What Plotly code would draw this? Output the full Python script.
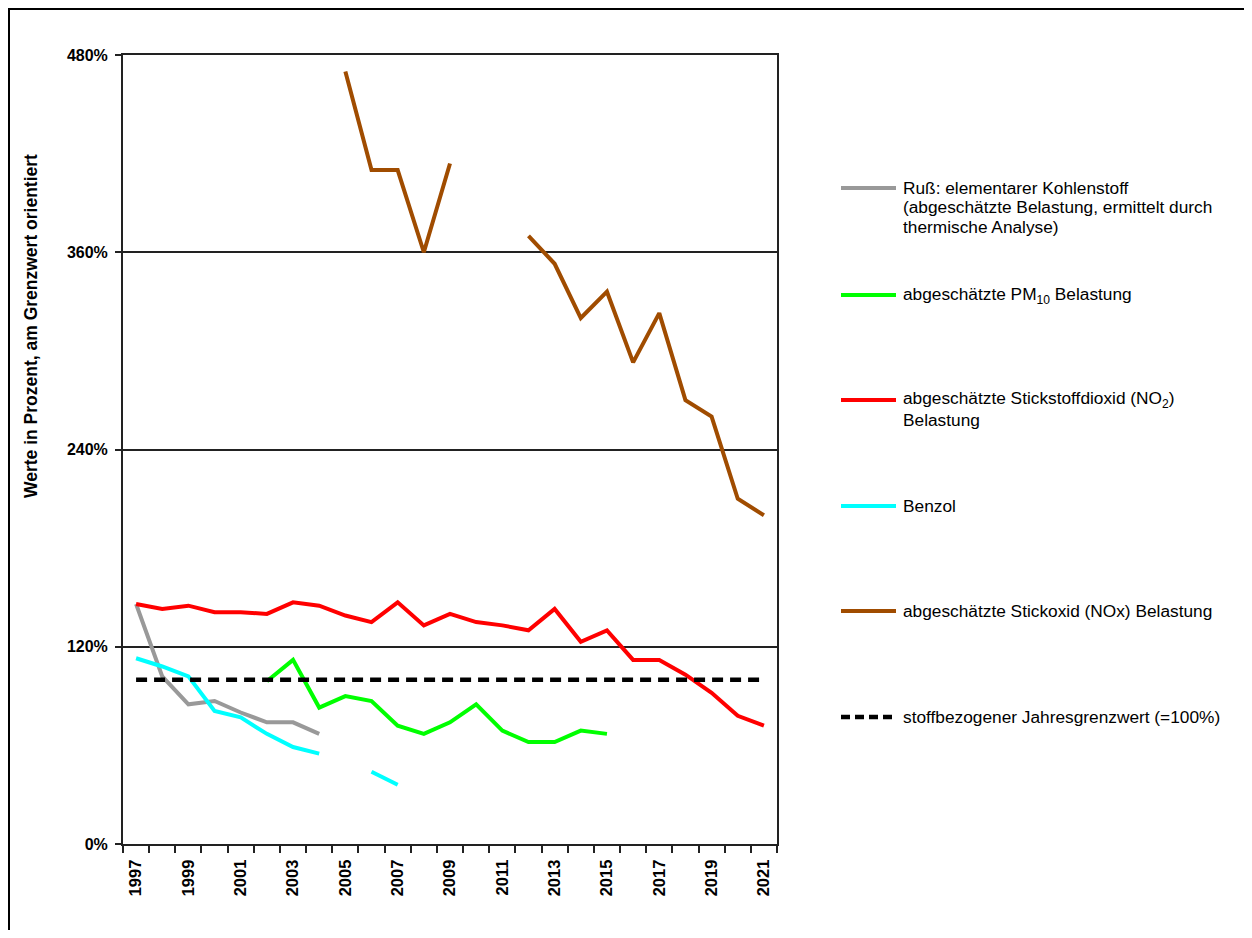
import plotly.graph_objects as go

years = list(range(1997, 2022))

russ = [146, 102, 85, 87, 80, 74, 74, 67] + [None] * 17
pm10 = [None] * 5 + [99, 112, 83, 90, 87, 72, 67, 74, 85, 69, 62, 62, 69, 67] + [None] * 6
no2 = [146, 143, 145, 141, 141, 140, 147, 145, 139, 135, 147, 133, 140, 135, 133, 130, 143, 123, 130, 112, 112, 103, 92, 78, 72]
benzol = [113, 108, 102, 81, 77, 67, 59, 55, None, 44, 36] + [None] * 14
nox = [None] * 8 + [470, 410, 410, 360, 414, None, None, 370, 353, 320, 336, 293, 323, 270, 260, 210, 200]
grenzwert = [100] * 25

series_names = [
    "Ruß: elementarer Kohlenstoff (abgeschätzte Belastung, ermittelt durch thermische Analyse)",
    "abgeschätzte PM10 Belastung",
    "abgeschätzte Stickstoffdioxid (NO2) Belastung",
    "Benzol",
    "abgeschätzte Stickoxid (NOx) Belastung",
    "stoffbezogener Jahresgrenzwert (=100%)",
]
legend_lines = [
    ["Ruß: elementarer Kohlenstoff", "(abgeschätzte Belastung, ermittelt durch", "thermische Analyse)"],
    ["abgeschätzte PM<sub>10</sub> Belastung"],
    ["abgeschätzte Stickstoffdioxid (NO<sub>2</sub>)", "Belastung"],
    ["Benzol"],
    ["abgeschätzte Stickoxid (NOx) Belastung"],
    ["stoffbezogener Jahresgrenzwert (=100%)"],
]
colors = ["#999999", "#00FF00", "#FF0000", "#00FFFF", "#A04C00", "#000000"]
dashes = ["solid", "solid", "solid", "solid", "solid", "11px,7px"]
data = [russ, pm10, no2, benzol, nox, grenzwert]

y_ticks = [0, 120, 240, 360, 480]
x_ticks = list(range(1997, 2022, 2))

OFF = 8  # page body margin
W, H = 1252 - 2 * OFF, 938 - 2 * OFF
# plot area in page pixel coordinates (reference)
L, R, T, B = 123, 777, 55, 844
pw, ph = R - L, B - T


def px(x):
    return (x - L) / pw


def py(y):
    return (B - y) / ph


fig = go.Figure()
for name, vals, col, d in zip(series_names, data, colors, dashes):
    fig.add_trace(go.Scatter(
        x=years, y=vals, name=name, mode="lines", connectgaps=False,
        line=dict(color=col, width=4.5 if d != "solid" else 4, dash=d),
        showlegend=False,
    ))

font_family = "Liberation Sans, Arial, sans-serif"
annotations = []
shapes = []
leg_y = [188, 295, 400, 506, 611, 717]
line_gap = 19.5
for lines, col, d, yy in zip(legend_lines, colors, dashes, leg_y):
    shapes.append(dict(
        type="line", xref="paper", yref="paper",
        x0=px(841), x1=px(896), y0=py(yy), y1=py(yy),
        line=dict(color=col, width=4.5 if d != "solid" else 4, dash="9px,5px" if d != "solid" else "solid"),
    ))
    for i, t in enumerate(lines):
        annotations.append(dict(
            text=t, xref="paper", yref="paper", x=px(901), y=py(yy + i * line_gap),
            xanchor="left", yanchor="middle", showarrow=False,
            font=dict(family=font_family, size=17.3, color="black"),
        ))

annotations.append(dict(
    text="<b>Werte in Prozent, am Grenzwert orientiert</b>", xref="paper", yref="paper",
    x=px(31), y=py(326), xanchor="center", yanchor="middle", textangle=-90, showarrow=False,
    font=dict(family=font_family, size=17.5, color="black"),
))

shapes.append(dict(
    type="rect", xref="paper", yref="paper",
    x0=px(OFF + 1), x1=px(1270), y0=py(950), y1=py(OFF + 1),
    line=dict(color="black", width=2), fillcolor="rgba(0,0,0,0)", layer="below",
))

fig.update_layout(
    width=W, height=H,
    margin=dict(l=L - OFF, r=W - (R - OFF), t=T - OFF, b=H - (B - OFF), pad=0),
    paper_bgcolor="white", plot_bgcolor="white",
    font=dict(family=font_family, color="black"),
    annotations=annotations, shapes=shapes,
    showlegend=False,
)
fig.update_xaxes(
    range=[1996.5, 2021.5], tickmode="array", tickvals=x_ticks,
    ticktext=[str(v) for v in x_ticks], tickangle=-90,
    ticks="outside", ticklen=7, tickcolor="rgba(0,0,0,0)",
    tickfont=dict(family=font_family, size=16.5, color="black", weight="bold"),
    showgrid=False, zeroline=False,
    showline=True, linecolor="#222222", linewidth=2, mirror=True,
    minor=dict(tickmode="linear", tick0=1996.5, dtick=1, ticks="outside", ticklen=7,
               tickcolor="#222222", tickwidth=2, showgrid=False),
)
fig.update_yaxes(
    range=[0, 480], tickmode="array", tickvals=y_ticks,
    ticktext=[f"{v}%" for v in y_ticks],
    ticks="outside", ticklen=6, tickcolor="#222222", tickwidth=2,
    tickfont=dict(family=font_family, size=16, color="black", weight="bold"),
    showgrid=True, gridcolor="#222222", gridwidth=1.5, zeroline=False,
    showline=True, linecolor="#222222", linewidth=2, mirror=True,
    ticklabelstandoff=4,
)

fig.write_html("out.html")
